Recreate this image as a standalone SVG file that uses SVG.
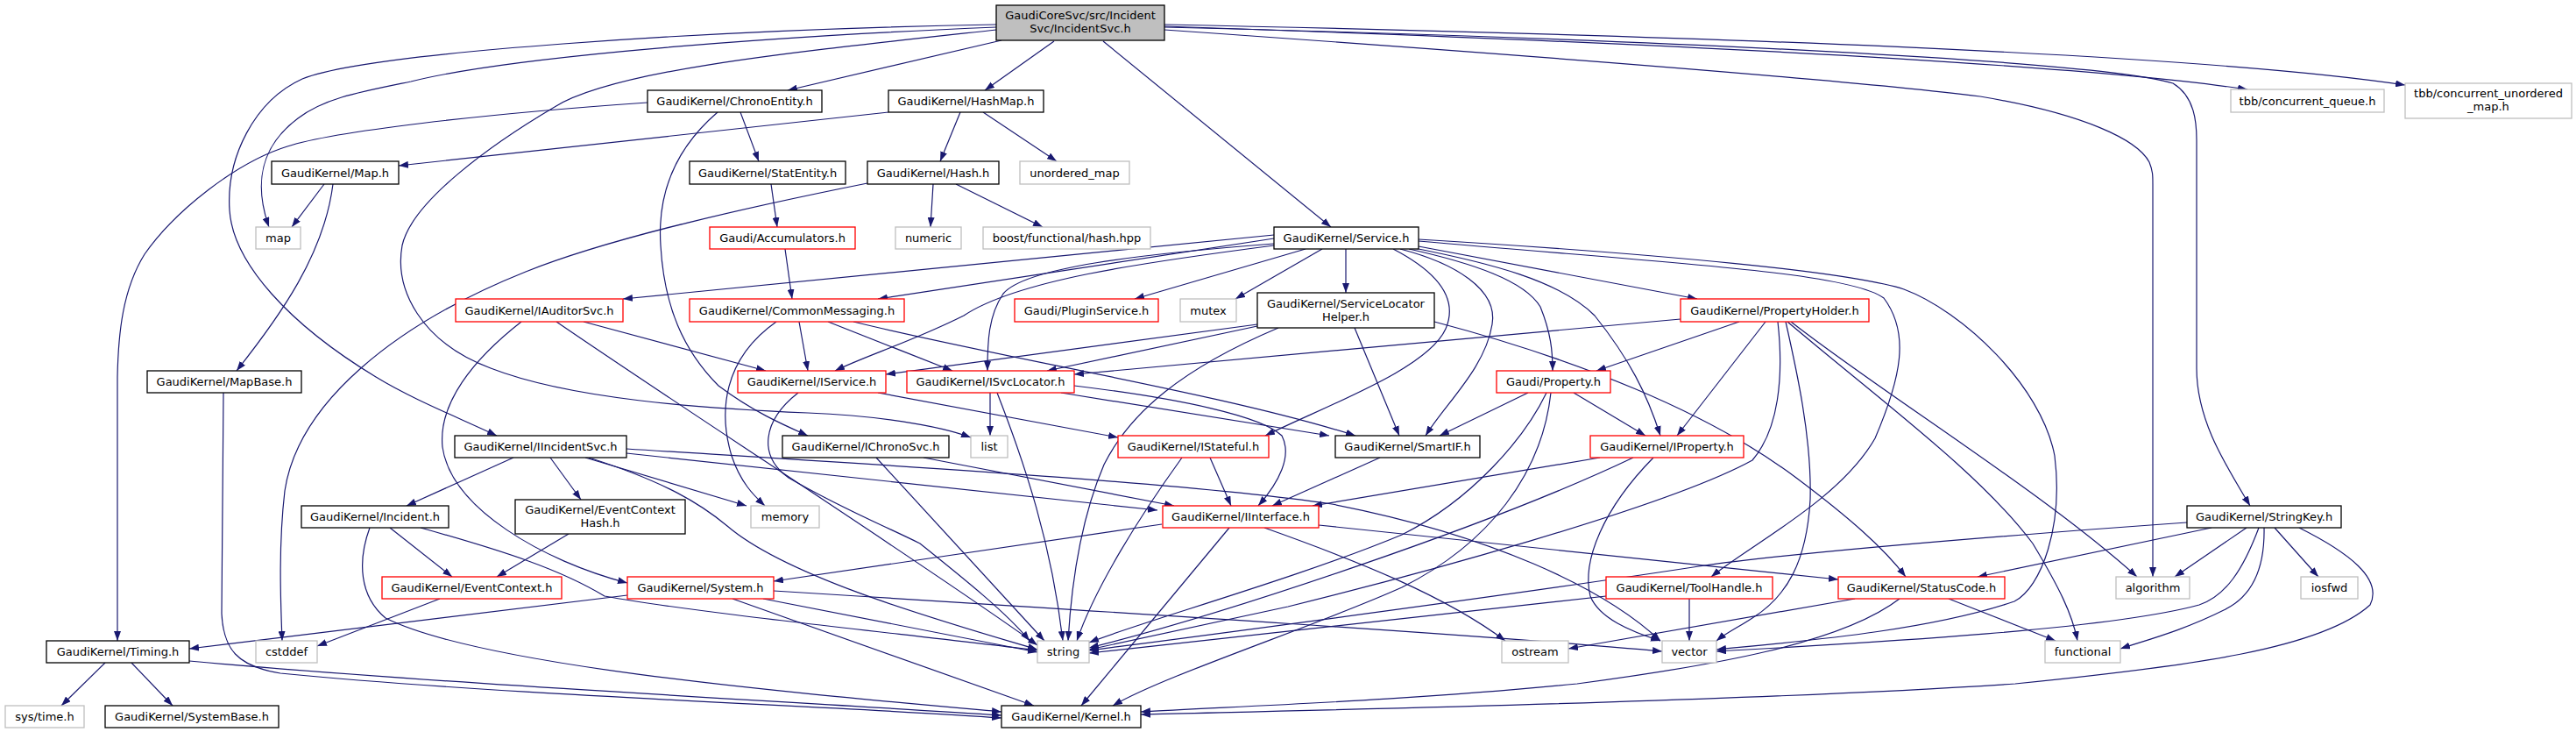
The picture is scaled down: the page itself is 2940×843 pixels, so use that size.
<svg xmlns="http://www.w3.org/2000/svg" width="2940" height="843" viewBox="0 0 2940 843">
<style>
.edge{fill:none;stroke:#191970;stroke-width:1.2;marker-end:url(#arr)}
.node rect{fill:#ffffff;stroke:#000000;stroke-width:1.3}
.node.red rect{stroke:#ff0000}
.node.ext rect{stroke:#bfbfbf}
.node.root rect{fill:#bfbfbf}
text{font-family:"DejaVu Sans","Liberation Sans",sans-serif;font-size:13px;fill:#000000;text-anchor:middle}
</style>
<defs>
<marker id="arr" markerUnits="userSpaceOnUse" markerWidth="11" markerHeight="8" refX="11" refY="4" orient="auto" viewBox="0 0 11 8"><path d="M0,0L11,4L0,8z" fill="#191970"/></marker>
</defs>
<rect width="2940" height="843" fill="#ffffff"/>
<g id="edges">
<path class="edge" d="M1143,46 L899,103"/>
<path class="edge" d="M1203,47 L1124,103"/>
<path class="edge" d="M1259,47 L1519,259"/>
<path class="edge" d="M1137,28 C800,34 420,60 345,90 C290,115 258,180 262,240 C266,300 330,370 429,430 C470,455 520,475 567,497"/>
<path class="edge" d="M1137,31 C800,45 560,70 469,93 C410,105 370,112 340,135 C300,165 288,205 307,259"/>
<path class="edge" d="M1137,34 C900,60 700,80 633,122 C560,165 470,230 459,280 C450,330 480,390 560,420 C650,455 800,466 922,471 C1000,474 1070,485 1108,499"/>
<path class="edge" d="M1329,30 C1800,46 2350,70 2565,102"/>
<path class="edge" d="M1329,28 C1900,40 2500,60 2745,97"/>
<path class="edge" d="M1329,31 C1900,45 2400,70 2480,95 C2505,110 2507,140 2507,160 L2507,420 C2507,480 2540,530 2568,577"/>
<path class="edge" d="M1329,34 C1700,60 2100,90 2260,110 C2380,130 2440,160 2453,185 C2457,195 2457,200 2457,210 L2457,658"/>
<path class="edge" d="M845,128 L866,184"/>
<path class="edge" d="M739,117 C550,130 380,150 328,167 C270,185 200,240 165,290 C140,330 135,380 134,430 L134,731"/>
<path class="edge" d="M819,128 C770,170 750,220 754,280 C758,350 780,400 820,440 C860,470 895,485 922,497"/>
<path class="edge" d="M1014,128 L455,189"/>
<path class="edge" d="M1096,128 L1073,184"/>
<path class="edge" d="M1122,128 L1206,184"/>
<path class="edge" d="M1065,210 L1062,259"/>
<path class="edge" d="M1091,210 L1190,259"/>
<path class="edge" d="M990,209 C860,235 700,270 600,310 C450,370 340,460 325,560 C318,620 320,680 322,731"/>
<path class="edge" d="M370,210 L333,259"/>
<path class="edge" d="M380,210 C370,290 320,360 270,423"/>
<path class="edge" d="M880,210 L887,259"/>
<path class="edge" d="M896,284 L904,341"/>
<path class="edge" d="M1454,268 L711,341"/>
<path class="edge" d="M1454,272 L1002,341"/>
<path class="edge" d="M1454,280 C1300,300 1160,320 1100,360 C1040,390 990,405 953,423"/>
<path class="edge" d="M1454,278 C1300,290 1170,305 1145,335 C1128,360 1127,390 1127,423"/>
<path class="edge" d="M1490,284 L1295,341"/>
<path class="edge" d="M1509,284 L1410,341"/>
<path class="edge" d="M1536,284 L1536,334"/>
<path class="edge" d="M1590,284 C1640,310 1665,340 1650,375 C1630,420 1520,460 1444,497"/>
<path class="edge" d="M1598,284 C1660,300 1710,330 1703,370 C1695,420 1650,460 1627,497"/>
<path class="edge" d="M1608,284 C1680,300 1740,320 1758,350 C1770,380 1772,400 1772,423"/>
<path class="edge" d="M1614,283 C1700,300 1780,320 1820,360 C1860,410 1880,450 1895,497"/>
<path class="edge" d="M1619,281 L1937,341"/>
<path class="edge" d="M1619,275 C1900,300 2110,310 2150,340 C2180,380 2170,430 2140,500 C2100,570 2000,620 1953,658"/>
<path class="edge" d="M1619,273 C1900,290 2110,310 2173,330 C2240,355 2330,440 2345,520 C2355,600 2330,670 2299,686 C2200,720 2050,732 1959,741"/>
<path class="edge" d="M595,367 C540,410 500,460 505,510 C515,580 620,640 716,665"/>
<path class="edge" d="M635,367 C800,480 1050,640 1184,736"/>
<path class="edge" d="M666,367 L874,423"/>
<path class="edge" d="M886,367 C825,410 820,470 835,520 C845,550 860,565 873,577"/>
<path class="edge" d="M912,367 L922,423"/>
<path class="edge" d="M945,367 L1087,423"/>
<path class="edge" d="M974,367 C1150,410 1400,450 1547,497"/>
<path class="edge" d="M1435,370 L1011,427"/>
<path class="edge" d="M1435,372 L1195,423"/>
<path class="edge" d="M1546,374 L1597,497"/>
<path class="edge" d="M1459,374 C1350,420 1290,470 1260,530 C1230,600 1222,680 1219,731"/>
<path class="edge" d="M1637,367 C1800,410 1950,470 2050,545 C2110,590 2150,625 2175,658"/>
<path class="edge" d="M1918,364 L1226,427"/>
<path class="edge" d="M1985,367 L1822,423"/>
<path class="edge" d="M2015,367 L1914,497"/>
<path class="edge" d="M2029,367 C2036,430 2030,490 2000,525 C1900,580 1600,660 1470,692 C1380,712 1300,728 1243,741"/>
<path class="edge" d="M2038,367 C2050,420 2068,500 2066,570 C2062,640 2040,680 2000,705 C1985,715 1970,722 1959,731"/>
<path class="edge" d="M2044,367 C2150,450 2330,560 2439,658"/>
<path class="edge" d="M2040,367 C2150,460 2260,540 2320,620 C2350,670 2365,700 2371,731"/>
<path class="edge" d="M1002,448 L1276,499"/>
<path class="edge" d="M911,448 C870,480 865,520 900,545 C960,580 1010,600 1050,620 C1100,660 1150,700 1175,731"/>
<path class="edge" d="M1130,448 L1130,497"/>
<path class="edge" d="M1138,448 C1170,530 1200,620 1213,731"/>
<path class="edge" d="M1211,448 L1517,497"/>
<path class="edge" d="M1226,440 C1350,455 1440,475 1463,497 C1475,520 1460,550 1436,577"/>
<path class="edge" d="M1000,522 L1192,731"/>
<path class="edge" d="M1054,522 L1340,577"/>
<path class="edge" d="M1381,522 L1405,577"/>
<path class="edge" d="M1349,522 C1300,590 1250,670 1229,731"/>
<path class="edge" d="M586,522 L464,577"/>
<path class="edge" d="M628,522 L663,570"/>
<path class="edge" d="M668,522 L852,577"/>
<path class="edge" d="M672,522 C760,550 800,575 830,600 C900,660 1080,710 1184,741"/>
<path class="edge" d="M715,517 L1321,582"/>
<path class="edge" d="M715,512 C1000,530 1350,550 1520,575 C1700,610 1830,670 1895,731"/>
<path class="edge" d="M445,602 L516,658"/>
<path class="edge" d="M422,602 C408,640 410,680 440,705 C550,760 900,790 1143,812"/>
<path class="edge" d="M480,602 C580,630 640,650 690,680 C800,700 1050,725 1184,742"/>
<path class="edge" d="M649,609 L567,658"/>
<path class="edge" d="M502,683 L362,737"/>
<path class="edge" d="M716,679 L216,740"/>
<path class="edge" d="M871,683 L1184,744"/>
<path class="edge" d="M836,683 L1180,805"/>
<path class="edge" d="M883,674 C1300,700 1700,725 1897,743"/>
<path class="edge" d="M120,756 L70,805"/>
<path class="edge" d="M150,756 L197,805"/>
<path class="edge" d="M216,754 C500,780 900,800 1143,816"/>
<path class="edge" d="M255,448 L253,700 C255,740 270,760 320,768 C600,795 950,805 1143,819"/>
<path class="edge" d="M1326,598 L883,663"/>
<path class="edge" d="M1403,602 L1234,805"/>
<path class="edge" d="M1443,602 C1550,640 1650,680 1718,731"/>
<path class="edge" d="M1505,599 L2098,661"/>
<path class="edge" d="M1575,522 L1452,577"/>
<path class="edge" d="M1744,448 L1643,497"/>
<path class="edge" d="M1796,448 L1878,497"/>
<path class="edge" d="M1765,448 C1740,500 1680,570 1600,610 C1480,660 1300,710 1243,733"/>
<path class="edge" d="M1770,448 C1760,540 1700,620 1600,670 C1500,715 1330,770 1270,805"/>
<path class="edge" d="M1826,522 L1498,577"/>
<path class="edge" d="M1864,522 C1700,600 1400,700 1243,739"/>
<path class="edge" d="M1887,522 C1830,580 1805,640 1815,680 C1825,705 1860,720 1895,731"/>
<path class="edge" d="M1833,680 L1243,745"/>
<path class="edge" d="M1928,683 L1928,731"/>
<path class="edge" d="M2117,683 L1790,740"/>
<path class="edge" d="M2168,683 C2100,735 1950,760 1800,780 C1600,800 1400,806 1302,812"/>
<path class="edge" d="M2224,683 L2346,731"/>
<path class="edge" d="M2496,596 C2300,610 2050,630 1939,646 C1750,675 1450,715 1243,742"/>
<path class="edge" d="M2524,602 L2257,658"/>
<path class="edge" d="M2564,602 L2482,658"/>
<path class="edge" d="M2578,602 C2560,650 2540,680 2510,690 C2400,720 2100,735 1959,743"/>
<path class="edge" d="M2584,602 C2585,650 2570,680 2540,695 C2490,720 2450,730 2420,740"/>
<path class="edge" d="M2596,602 L2646,658"/>
<path class="edge" d="M2624,602 C2680,630 2720,660 2705,690 C2650,740 2500,760 2300,780 C2000,800 1500,810 1302,815"/>
</g>
<g id="n_root" class="node root"><rect x="1137" y="6" width="192" height="40"/><text x="1233" y="22">GaudiCoreSvc/src/Incident</text><text x="1233" y="37">Svc/IncidentSvc.h</text></g>
<g id="n_chronoentity" class="node"><rect x="739" y="103" width="199" height="25"/><text x="838.5" y="120">GaudiKernel/ChronoEntity.h</text></g>
<g id="n_hashmap" class="node"><rect x="1014" y="103" width="177" height="25"/><text x="1102.5" y="120">GaudiKernel/HashMap.h</text></g>
<g id="n_tbbqueue" class="node ext"><rect x="2546" y="102" width="175" height="26"/><text x="2633.5" y="119.5">tbb/concurrent_queue.h</text></g>
<g id="n_tbbumap" class="node ext"><rect x="2745" y="95" width="190" height="40"/><text x="2840" y="111">tbb/concurrent_unordered</text><text x="2840" y="126">_map.h</text></g>
<g id="n_maph" class="node"><rect x="310" y="184" width="145" height="26"/><text x="382.5" y="201.5">GaudiKernel/Map.h</text></g>
<g id="n_statentity" class="node"><rect x="787" y="184" width="178" height="26"/><text x="876" y="201.5">GaudiKernel/StatEntity.h</text></g>
<g id="n_hash" class="node"><rect x="990" y="184" width="150" height="26"/><text x="1065" y="201.5">GaudiKernel/Hash.h</text></g>
<g id="n_umap" class="node ext"><rect x="1164" y="184" width="125" height="26"/><text x="1226.5" y="201.5">unordered_map</text></g>
<g id="n_map" class="node ext"><rect x="292" y="259" width="51" height="25"/><text x="317.5" y="276">map</text></g>
<g id="n_accum" class="node red"><rect x="810" y="259" width="166" height="25"/><text x="893" y="276">Gaudi/Accumulators.h</text></g>
<g id="n_numeric" class="node ext"><rect x="1022" y="259" width="75" height="25"/><text x="1059.5" y="276">numeric</text></g>
<g id="n_boosthash" class="node ext"><rect x="1122" y="259" width="191" height="25"/><text x="1217.5" y="276">boost/functional/hash.hpp</text></g>
<g id="n_service" class="node"><rect x="1454" y="259" width="165" height="25"/><text x="1536.5" y="276">GaudiKernel/Service.h</text></g>
<g id="n_iauditorsvc" class="node red"><rect x="520" y="341" width="191" height="26"/><text x="615.5" y="358.5">GaudiKernel/IAuditorSvc.h</text></g>
<g id="n_commonmsg" class="node red"><rect x="787" y="341" width="245" height="26"/><text x="909.5" y="358.5">GaudiKernel/CommonMessaging.h</text></g>
<g id="n_pluginsvc" class="node red"><rect x="1158" y="341" width="164" height="26"/><text x="1240" y="358.5">Gaudi/PluginService.h</text></g>
<g id="n_mutex" class="node ext"><rect x="1347" y="341" width="64" height="26"/><text x="1379" y="358.5">mutex</text></g>
<g id="n_slhelper" class="node"><rect x="1435" y="334" width="202" height="40"/><text x="1536" y="350.5">GaudiKernel/ServiceLocator</text><text x="1536" y="365.5">Helper.h</text></g>
<g id="n_propholder" class="node red"><rect x="1918" y="341" width="215" height="26"/><text x="2025.5" y="358.5">GaudiKernel/PropertyHolder.h</text></g>
<g id="n_mapbase" class="node"><rect x="168" y="423" width="176" height="25"/><text x="256" y="440">GaudiKernel/MapBase.h</text></g>
<g id="n_iservice" class="node red"><rect x="842" y="423" width="169" height="25"/><text x="926.5" y="440">GaudiKernel/IService.h</text></g>
<g id="n_isvclocator" class="node red"><rect x="1035" y="423" width="191" height="25"/><text x="1130.5" y="440">GaudiKernel/ISvcLocator.h</text></g>
<g id="n_property" class="node red"><rect x="1708" y="423" width="130" height="25"/><text x="1773" y="440">Gaudi/Property.h</text></g>
<g id="n_iincidentsvc" class="node"><rect x="519" y="497" width="196" height="25"/><text x="617" y="514">GaudiKernel/IIncidentSvc.h</text></g>
<g id="n_ichronosvc" class="node"><rect x="893" y="497" width="190" height="25"/><text x="988" y="514">GaudiKernel/IChronoSvc.h</text></g>
<g id="n_list" class="node ext"><rect x="1108" y="497" width="42" height="25"/><text x="1129" y="514">list</text></g>
<g id="n_istateful" class="node red"><rect x="1276" y="497" width="172" height="25"/><text x="1362" y="514">GaudiKernel/IStateful.h</text></g>
<g id="n_smartif" class="node"><rect x="1524" y="497" width="165" height="25"/><text x="1606.5" y="514">GaudiKernel/SmartIF.h</text></g>
<g id="n_iproperty" class="node red"><rect x="1815" y="497" width="175" height="25"/><text x="1902.5" y="514">GaudiKernel/IProperty.h</text></g>
<g id="n_incident" class="node"><rect x="344" y="577" width="168" height="25"/><text x="428" y="594">GaudiKernel/Incident.h</text></g>
<g id="n_evctxhash" class="node"><rect x="588" y="570" width="194" height="39"/><text x="685" y="586">GaudiKernel/EventContext</text><text x="685" y="600.5">Hash.h</text></g>
<g id="n_memory" class="node ext"><rect x="857" y="577" width="78" height="25"/><text x="896" y="594">memory</text></g>
<g id="n_iinterface" class="node red"><rect x="1327" y="577" width="178" height="25"/><text x="1416" y="594">GaudiKernel/IInterface.h</text></g>
<g id="n_stringkey" class="node"><rect x="2496" y="577" width="176" height="25"/><text x="2584" y="594">GaudiKernel/StringKey.h</text></g>
<g id="n_eventcontext" class="node red"><rect x="436" y="658" width="205" height="25"/><text x="538.5" y="675">GaudiKernel/EventContext.h</text></g>
<g id="n_system" class="node red"><rect x="716" y="658" width="167" height="25"/><text x="799.5" y="675">GaudiKernel/System.h</text></g>
<g id="n_toolhandle" class="node red"><rect x="1833" y="658" width="190" height="25"/><text x="1928" y="675">GaudiKernel/ToolHandle.h</text></g>
<g id="n_statuscode" class="node red"><rect x="2098" y="658" width="190" height="25"/><text x="2193" y="675">GaudiKernel/StatusCode.h</text></g>
<g id="n_algorithm" class="node ext"><rect x="2415" y="658" width="84" height="25"/><text x="2457" y="675">algorithm</text></g>
<g id="n_iosfwd" class="node ext"><rect x="2626" y="658" width="65" height="25"/><text x="2658.5" y="675">iosfwd</text></g>
<g id="n_timing" class="node"><rect x="53" y="731" width="163" height="25"/><text x="134.5" y="748">GaudiKernel/Timing.h</text></g>
<g id="n_cstddef" class="node ext"><rect x="292" y="731" width="70" height="25"/><text x="327" y="748">cstddef</text></g>
<g id="n_string" class="node ext"><rect x="1184" y="731" width="59" height="25"/><text x="1213.5" y="748">string</text></g>
<g id="n_ostream" class="node ext"><rect x="1714" y="731" width="76" height="25"/><text x="1752" y="748">ostream</text></g>
<g id="n_vector" class="node ext"><rect x="1897" y="731" width="62" height="25"/><text x="1928" y="748">vector</text></g>
<g id="n_functional" class="node ext"><rect x="2334" y="731" width="86" height="25"/><text x="2377" y="748">functional</text></g>
<g id="n_systime" class="node ext"><rect x="6" y="805" width="90" height="25"/><text x="51" y="822">sys/time.h</text></g>
<g id="n_systembase" class="node"><rect x="120" y="805" width="198" height="25"/><text x="219" y="822">GaudiKernel/SystemBase.h</text></g>
<g id="n_kernel" class="node"><rect x="1143" y="805" width="159" height="25"/><text x="1222.5" y="822">GaudiKernel/Kernel.h</text></g>
</svg>
